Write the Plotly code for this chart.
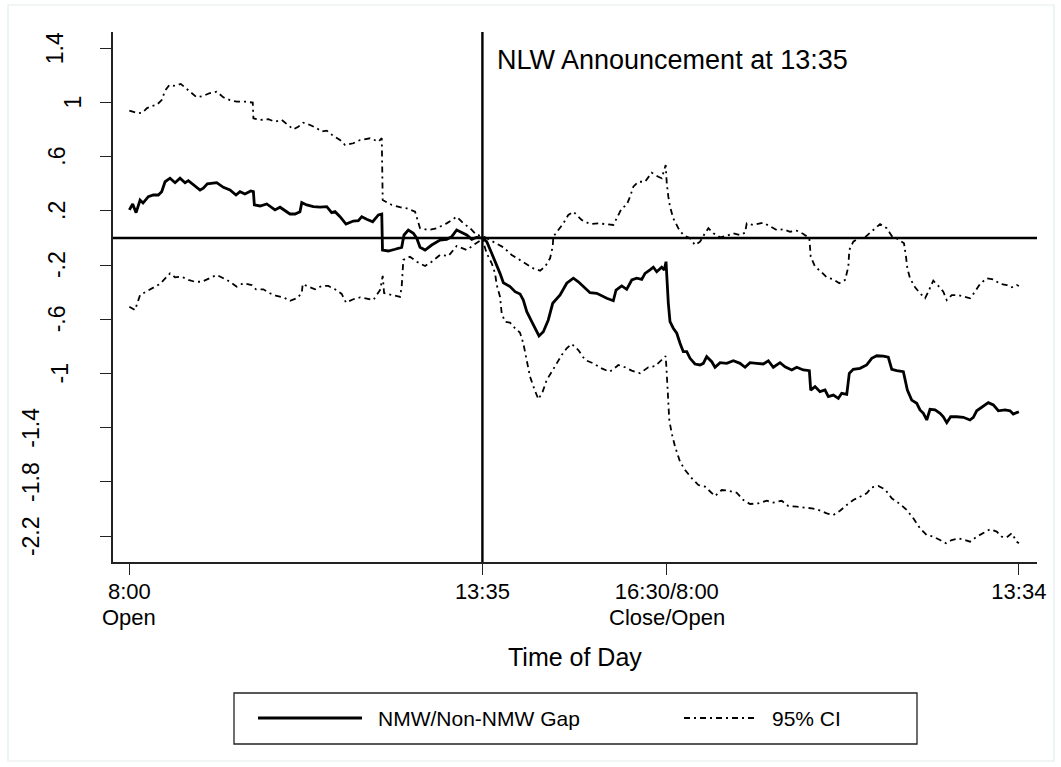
import plotly.graph_objects as go

# ---------------- data (minutes since 8:00 open, day1 open .. day2 13:34) ----------------
gap_t = [0, 3.2, 6.4, 10.2, 13.0, 18.0, 22.8, 27.5, 30.7, 33.9, 38.6, 43.4, 48.1, 52.9, 56.0, 60.7,
         67.1, 70.2, 74.0, 82.9, 89.2, 95.5, 101.2, 105.0, 109.7, 115.2, 117.7, 118.6, 124.0, 130.4,
         138.2, 143.0, 147.7, 152.4, 157.2, 161.9, 163.6, 168.3, 174.6, 180.9, 187.3, 192.0, 195.2,
         199.9, 205.6, 212.5, 217.3, 220.5, 225.2, 230.9, 236.3, 239.5, 240.2, 245.7, 252.1, 258.4,
         260.6, 264.7, 269.5, 272.7, 275.8, 280.6, 286.9, 294.8, 301.1, 305.9, 310.6, 315.4, 320.1,
         324.9, 329.6, 335.0, 339.1, 343.8, 348.6, 351.7, 354.9, 361.2, 366.0, 370.7, 373.8, 377.1,
         381.8, 385.9, 388.7, 392.8, 397.5, 401.7, 408.7, 415.0, 421.3, 426.0, 430.8, 437.1, 443.5,
         449.7, 453.0, 459.2, 461.8, 467.2, 471.9, 476.7, 481.4, 486.2, 489.3, 494.0, 497.2, 500.4,
         505.1, 507.6, 509.2, 511.4, 513.0, 516.1, 519.4, 522.5, 525.6, 528.9, 532.0, 536.7, 541.5,
         544.6, 547.8, 552.6, 555.7, 560.5, 566.8, 573.1, 579.4, 584.2, 588.9, 595.3, 601.5, 606.3,
         611.0, 617.4, 622.1, 628.5, 633.2, 639.5, 645.2, 646.5, 650.6, 655.3, 660.1, 663.2, 668.0,
         672.7, 675.9, 680.7, 683.1, 686.9, 693.3, 699.6, 704.4, 709.1, 715.4, 720.1, 723.4, 728.1,
         734.4, 738.2, 742.3, 747.1, 750.2, 753.4, 756.6, 759.7, 764.5, 769.2, 772.3, 775.6, 779.3,
         785.0, 791.3, 797.6, 800.8, 804.0, 810.3, 815.0, 819.8, 824.5, 830.9, 835.6, 838.7, 844.0]
gap_v = [0.207, 0.251, 0.187, 0.280, 0.258, 0.305, 0.317, 0.317, 0.342, 0.415, 0.441, 0.408, 0.441,
         0.408, 0.423, 0.391, 0.354, 0.367, 0.399, 0.408, 0.374, 0.354, 0.317, 0.342, 0.325, 0.347,
         0.342, 0.244, 0.236, 0.251, 0.207, 0.227, 0.201, 0.177, 0.177, 0.194, 0.261, 0.244, 0.231,
         0.227, 0.231, 0.187, 0.194, 0.157, 0.103, 0.125, 0.128, 0.157, 0.138, 0.120, 0.170, 0.177,
         -0.089, -0.096, -0.083, -0.069, 0.022, 0.059, 0.035, -0.002, -0.069, -0.089, -0.052, -0.015,
         -0.010, 0.010, 0.059, 0.039, 0.022, -0.010, 0.005, 0.0, -0.027, -0.113, -0.199, -0.261,
         -0.330, -0.359, -0.396, -0.413, -0.458, -0.544, -0.618, -0.674, -0.723, -0.692, -0.605,
         -0.482, -0.421, -0.334, -0.297, -0.323, -0.359, -0.404, -0.408, -0.433, -0.445, -0.463,
         -0.384, -0.354, -0.379, -0.310, -0.297, -0.305, -0.261, -0.236, -0.216, -0.249, -0.216,
         -0.236, -0.175, -0.482, -0.618, -0.666, -0.703, -0.777, -0.839, -0.839, -0.888, -0.930,
         -0.937, -0.925, -0.876, -0.913, -0.954, -0.920, -0.925, -0.906, -0.925, -0.954, -0.920,
         -0.925, -0.930, -0.906, -0.954, -0.920, -0.950, -0.974, -0.954, -0.974, -0.979, -1.122,
         -1.097, -1.134, -1.122, -1.171, -1.159, -1.183, -1.146, -1.154, -0.999, -0.969, -0.962,
         -0.937, -0.888, -0.869, -0.871, -0.880, -0.969, -0.979, -0.987, -1.122, -1.196, -1.220,
         -1.269, -1.294, -1.343, -1.264, -1.269, -1.294, -1.319, -1.363, -1.319, -1.319, -1.323,
         -1.343, -1.323, -1.275, -1.240, -1.215, -1.232, -1.275, -1.269, -1.275, -1.299, -1.282]

ub_t = [0, 3.8, 8.5, 12.7, 16.5, 21.3, 26.0, 30.7, 33.9, 38.0, 43.4, 48.8, 52.8, 58.3, 63.9, 70.2,
        75.9, 82.9, 89.2, 95.5, 101.9, 109.8, 117.1, 117.7, 124.0, 131.9, 138.2, 144.6, 150.9, 155.6,
        160.3, 165.1, 171.5, 177.8, 182.5, 187.3, 193.6, 199.9, 204.7, 212.5, 218.9, 228.4, 236.3,
        239.5, 240.4, 249.0, 256.8, 263.2, 271.1, 275.8, 283.7, 291.7, 301.1, 310.6, 316.9, 323.3,
        329.6, 335.0, 342.2, 348.6, 354.9, 362.8, 370.7, 377.1, 383.3, 389.7, 394.4, 399.2, 401.7,
        402.3, 407.0, 411.8, 416.5, 421.3, 429.2, 437.1, 445.0, 453.0, 459.2, 462.4, 467.2, 471.9,
        475.1, 478.2, 482.9, 489.3, 495.6, 501.9, 505.1, 508.9, 509.9, 511.4, 513.0, 516.1, 520.9,
        525.6, 532.0, 536.7, 541.5, 546.2, 549.4, 554.1, 560.5, 566.8, 573.1, 579.4, 584.2, 585.8,
        592.1, 601.5, 607.9, 614.3, 620.5, 626.9, 633.2, 639.5, 645.2, 646.5, 650.6, 655.3, 661.7,
        668.0, 673.6, 679.1, 682.2, 683.1, 686.9, 691.7, 698.0, 704.4, 712.3, 718.6, 723.4, 729.6,
        735.0, 736.9, 738.2, 740.7, 745.5, 750.2, 755.0, 758.1, 762.8, 767.6, 772.3, 775.6, 780.3,
        786.6, 792.9, 797.7, 802.4, 807.2, 813.5, 819.8, 826.1, 832.5, 837.2, 842.0, 844.0]
ub_v = [0.939, 0.932, 0.920, 0.925, 0.957, 0.974, 0.982, 1.018, 1.087, 1.129, 1.122, 1.137, 1.112,
        1.080, 1.038, 1.048, 1.068, 1.080, 1.038, 1.018, 1.006, 1.006, 0.999, 0.883, 0.871, 0.876,
        0.858, 0.871, 0.834, 0.802, 0.821, 0.851, 0.834, 0.810, 0.785, 0.792, 0.753, 0.723, 0.686,
        0.699, 0.723, 0.736, 0.711, 0.736, 0.280, 0.244, 0.227, 0.219, 0.194, 0.072, 0.059, 0.072,
        0.108, 0.157, 0.108, 0.072, 0.022, 0.015, -0.015, -0.044, -0.069, -0.125, -0.162, -0.192,
        -0.224, -0.241, -0.212, -0.150, -0.064, 0.010, 0.059, 0.108, 0.170, 0.194, 0.133, 0.103,
        0.108, 0.103, 0.096, 0.145, 0.219, 0.244, 0.305, 0.379, 0.415, 0.415, 0.482, 0.452, 0.441,
        0.539, 0.404, 0.305, 0.231, 0.145, 0.072, 0.022, -0.002, -0.052, -0.027, 0.035, 0.072,
        0.035, 0.005, 0.015, 0.035, 0.022, 0.039, 0.108, 0.096, 0.113, 0.083, 0.059, 0.064, 0.046,
        0.054, 0.030, -0.002, -0.138, -0.212, -0.241, -0.290, -0.305, -0.334, -0.310, -0.212,
        -0.089, -0.027, -0.002, 0.005, 0.046, 0.103, 0.072, 0.015, -0.010, -0.039, -0.138, -0.224,
        -0.297, -0.364, -0.408, -0.445, -0.396, -0.315, -0.354, -0.396, -0.458, -0.421, -0.421,
        -0.433, -0.445, -0.396, -0.339, -0.297, -0.305, -0.339, -0.347, -0.364, -0.347, -0.354]

lb_t = [0, 5.4, 10.2, 18.0, 24.4, 29.1, 33.9, 38.6, 43.4, 49.7, 56.0, 62.3, 68.7, 74.0, 82.9, 89.2,
        95.5, 101.9, 108.2, 116.1, 120.2, 127.1, 133.5, 139.9, 146.1, 152.5, 158.8, 163.6, 164.5,
        169.8, 176.2, 182.5, 188.8, 195.2, 201.5, 205.6, 212.5, 218.9, 226.8, 231.5, 237.9, 240.4,
        241.7, 250.5, 256.8, 258.4, 260.0, 266.3, 272.7, 280.6, 286.9, 294.8, 302.7, 310.6, 320.1,
        328.0, 335.0, 339.1, 343.8, 347.0, 348.6, 351.7, 353.3, 356.5, 361.2, 366.0, 370.7, 373.8,
        377.1, 380.2, 384.0, 388.1, 392.2, 396.0, 400.8, 405.5, 410.3, 415.0, 419.7, 426.0, 432.4,
        440.2, 448.2, 455.4, 459.2, 464.0, 470.3, 476.7, 484.5, 492.4, 498.8, 505.1, 508.9, 509.9,
        511.4, 512.3, 514.6, 517.8, 522.5, 527.3, 533.6, 539.9, 546.2, 552.6, 555.7, 562.1, 568.3,
        576.3, 582.6, 588.9, 596.8, 604.8, 611.0, 619.0, 625.3, 633.2, 639.5, 647.5, 653.7, 661.7,
        668.0, 674.3, 680.7, 686.9, 693.3, 699.6, 704.4, 710.6, 717.0, 723.4, 731.2, 737.6, 743.9,
        750.2, 756.6, 762.8, 769.2, 774.9, 780.3, 786.6, 792.9, 797.7, 804.0, 810.3, 816.6, 823.0,
        827.7, 832.5, 837.2, 842.0, 844.0]
lb_v = [-0.507, -0.531, -0.421, -0.384, -0.359, -0.339, -0.297, -0.261, -0.290, -0.286, -0.310,
        -0.323, -0.323, -0.305, -0.273, -0.297, -0.323, -0.359, -0.334, -0.347, -0.379, -0.379,
        -0.408, -0.428, -0.438, -0.463, -0.445, -0.408, -0.339, -0.359, -0.379, -0.354, -0.354,
        -0.379, -0.413, -0.477, -0.452, -0.438, -0.452, -0.458, -0.384, -0.280, -0.406, -0.421,
        -0.435, -0.359, -0.162, -0.138, -0.175, -0.207, -0.175, -0.125, -0.133, -0.059, -0.089,
        -0.044, -0.010, -0.113, -0.187, -0.261, -0.347, -0.433, -0.556, -0.618, -0.625, -0.666,
        -0.699, -0.777, -0.900, -1.024, -1.109, -1.190, -1.134, -1.048, -0.987, -0.925, -0.863,
        -0.814, -0.782, -0.827, -0.900, -0.925, -0.962, -0.987, -0.969, -0.937, -0.954, -0.979,
        -0.998, -0.954, -0.945, -0.900, -0.871, -0.998, -1.171, -1.343, -1.441, -1.540, -1.651,
        -1.712, -1.773, -1.823, -1.835, -1.884, -1.904, -1.860, -1.865, -1.880, -1.934, -1.963,
        -1.958, -1.939, -1.953, -1.939, -1.978, -1.983, -1.987, -1.995, -2.007, -2.032, -2.044,
        -2.013, -1.970, -1.934, -1.909, -1.884, -1.840, -1.830, -1.855, -1.921, -1.963, -2.007,
        -2.069, -2.142, -2.192, -2.204, -2.229, -2.253, -2.229, -2.216, -2.229, -2.241, -2.204,
        -2.179, -2.150, -2.167, -2.204, -2.209, -2.179, -2.241, -2.253]

x_tickvals = [0, 335, 510, 844]
x_ticktext = ["8:00", "13:35", "16:30/8:00", "13:34"]
x_ticksub = ["Open", "", "Close/Open", ""]
y_tickvals = [-2.2, -1.8, -1.4, -1, -0.6, -0.2, 0.2, 0.6, 1, 1.4]
y_ticktext = ["-2.2", "-1.8", "-1.4", "-1", "-.6", "-.2", ".2", ".6", "1", "1.4"]
announce_t = 335
announce_text = "NLW Announcement at 13:35"
x_title = "Time of Day"
series_names = ["NMW/Non-NMW Gap", "95% CI"]

# ---------------- styling ----------------
FONT = "Liberation Sans, Arial, sans-serif"
W, H = 1061, 767
L, R, T, B = 113, 24, 32, 205
PW, PH = W - L - R, H - T - B
TICK_FS = 22


def px_x(px):
    return (px - L) / PW


def px_y(py):
    return (H - B - py) / PH


DASH = "6px,4px,2px,4px"
ylab_center_px = [31, 31, 31, 59, 57, 57, 57, 57, 73, 55]

fig = go.Figure()
fig.add_trace(go.Scatter(x=gap_t, y=gap_v, mode="lines", name=series_names[0], showlegend=False,
                         line=dict(color="black", width=2.8)))
fig.add_trace(go.Scatter(x=ub_t, y=ub_v, mode="lines", name=series_names[1], showlegend=False,
                         line=dict(color="black", width=1.8, dash=DASH)))
fig.add_trace(go.Scatter(x=lb_t, y=lb_v, mode="lines", name=series_names[1], showlegend=False,
                         line=dict(color="black", width=1.8, dash=DASH)))

# reference lines
fig.add_hline(y=0, line=dict(color="black", width=2.4), layer="above")
fig.add_vline(x=announce_t, line=dict(color="black", width=2.4), layer="above")

fig.add_annotation(x=announce_t, y=px_y(60), xref="x", yref="paper", xshift=13,
                   text=announce_text, showarrow=False, xanchor="left", yanchor="middle",
                   font=dict(family=FONT, size=27, color="black"))

# rotated y tick labels (Stata style)
for v, t, cx in zip(y_tickvals, y_ticktext, ylab_center_px):
    fig.add_annotation(x=px_x(cx), y=v, xref="paper", yref="y", text=t,
                       textangle=-90, showarrow=False, xanchor="center", yanchor="middle",
                       font=dict(family=FONT, size=23, color="black"))

# second line of x tick labels
for v, t in zip(x_tickvals, x_ticksub):
    if t:
        fig.add_annotation(x=v, y=px_y(617), xref="x", yref="paper", text=t, showarrow=False,
                           xanchor="center", yanchor="middle",
                           font=dict(family=FONT, size=TICK_FS, color="black"))

# x axis title
fig.add_annotation(x=px_x(575), y=px_y(657), xref="paper", yref="paper", text=x_title,
                   showarrow=False, xanchor="center", yanchor="middle",
                   font=dict(family=FONT, size=25, color="black"))

# legend (drawn Stata-style)
fig.add_shape(type="rect", xref="paper", yref="paper", x0=px_x(234), x1=px_x(917),
              y0=px_y(744), y1=px_y(693), line=dict(color="#222", width=1.3),
              fillcolor="white", layer="above")
fig.add_shape(type="line", xref="paper", yref="paper", x0=px_x(258), x1=px_x(362),
              y0=px_y(718), y1=px_y(718), line=dict(color="black", width=2.8))
fig.add_shape(type="line", xref="paper", yref="paper", x0=px_x(684), x1=px_x(758),
              y0=px_y(718), y1=px_y(718), line=dict(color="black", width=1.8, dash=DASH))
fig.add_annotation(x=px_x(376), y=px_y(718), xref="paper", yref="paper", text=series_names[0],
                   showarrow=False, xanchor="left", yanchor="middle",
                   font=dict(family=FONT, size=21, color="black"))
fig.add_annotation(x=px_x(770), y=px_y(718), xref="paper", yref="paper", text=series_names[1],
                   showarrow=False, xanchor="left", yanchor="middle",
                   font=dict(family=FONT, size=21, color="black"))

# faint outer frame of the graph region
fig.add_shape(type="rect", xref="paper", yref="paper", x0=px_x(8), x1=px_x(1054),
              y0=px_y(761), y1=px_y(5), line=dict(color="#E3EBEE", width=1.2),
              fillcolor="rgba(0,0,0,0)", layer="below")

fig.update_layout(
    width=W, height=H,
    margin=dict(l=L, r=R, t=T, b=B),
    paper_bgcolor="white", plot_bgcolor="white",
    font=dict(family=FONT, size=TICK_FS, color="black"),
    showlegend=False,
    xaxis=dict(range=[-15.5, 861.2], tickmode="array", tickvals=x_tickvals, ticktext=x_ticktext,
               showgrid=False, zeroline=False, showline=True, linecolor="#222", linewidth=1.6,
               ticks="outside", ticklen=11, tickwidth=1.4, tickcolor="#222",
               ticklabelstandoff=-2,
               tickfont=dict(family=FONT, size=TICK_FS, color="black")),
    yaxis=dict(range=[-2.391, 1.52], tickmode="array", tickvals=y_tickvals, ticktext=y_ticktext,
               showticklabels=False, showgrid=False, zeroline=False, showline=True,
               linecolor="#222", linewidth=1.6, ticks="outside", ticklen=11, tickwidth=1.4,
               tickcolor="#222"),
)

fig.write_html("out.html", post_script="document.body.style.margin='0';",
               config={"displayModeBar": False})
